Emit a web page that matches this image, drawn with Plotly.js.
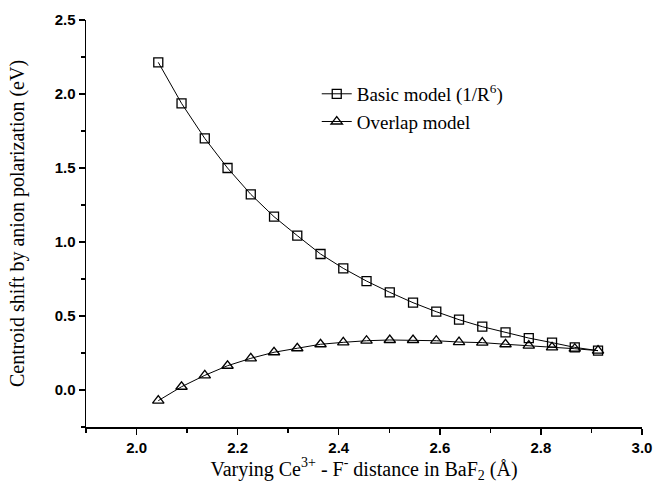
<!DOCTYPE html>
<html><head><meta charset="utf-8">
<script src="https://cdn.plot.ly/plotly-3.0.1.min.js"></script>
<style>html,body{margin:0;padding:0;background:#fff}</style>
</head><body><div id="chart" style="width:654px;height:494px"></div>
<script>
const distance = [2.043, 2.089, 2.135, 2.180, 2.226, 2.272, 2.318, 2.364, 2.409, 2.455, 2.501, 2.547, 2.593, 2.638, 2.684, 2.730, 2.776, 2.822, 2.867, 2.913];
const basicModel = [2.214, 1.937, 1.700, 1.500, 1.322, 1.171, 1.043, 0.919, 0.822, 0.736, 0.660, 0.590, 0.529, 0.475, 0.428, 0.390, 0.351, 0.320, 0.288, 0.266];
const overlapModel = [-0.072, 0.022, 0.099, 0.164, 0.214, 0.255, 0.282, 0.309, 0.322, 0.333, 0.338, 0.338, 0.333, 0.324, 0.320, 0.309, 0.300, 0.288, 0.279, 0.266];
const seriesNames = ['Basic model (1/R<sup>6</sup>)', 'Overlap model'];

const traces = [
  {x: distance, y: basicModel, name: seriesNames[0], type: 'scatter', mode: 'lines+markers',
   line: {color: '#000', width: 1}, marker: {symbol: 'square-open', size: 9, color: '#000', line: {width: 1.3}}},
  {x: distance, y: overlapModel, name: seriesNames[1], type: 'scatter', mode: 'lines+markers',
   line: {color: '#000', width: 1}, marker: {symbol: 'triangle-up-open', size: 10, color: '#000', line: {width: 1.3}}}
];
const tickFont = {family: 'Liberation Sans, Arial, sans-serif', size: 15, color: '#000', weight: 'bold'};
const serif = 'Liberation Serif, Times New Roman, serif';
const layout = {
  width: 654, height: 494,
  margin: {l: 86, r: 12, t: 20, b: 67},
  paper_bgcolor: '#fff', plot_bgcolor: '#fff',
  showlegend: true,
  legend: {x: 0.415, y: 0.865, xanchor: 'left', yanchor: 'top', bgcolor: 'rgba(0,0,0,0)',
           font: {family: serif, size: 19, color: '#000'},
           tracegroupgap: 0, itemwidth: 30},
  xaxis: {range: [1.9, 3.0], tickvals: [2.0, 2.2, 2.4, 2.6, 2.8, 3.0], ticktext: ['2.0','2.2','2.4','2.6','2.8','3.0'],
          ticks: 'outside', ticklen: 6, tickwidth: 1.5, tickcolor: '#000',
          minor: {dtick: 0.1, tick0: 2.0, ticks: 'outside', ticklen: 4, tickwidth: 1.5, tickcolor: '#000'},
          showline: true, linecolor: '#000', linewidth: 1.5, showgrid: false, zeroline: false,
          tickfont: tickFont,
          title: {text: 'Varying Ce<sup>3+</sup> - F<sup>-</sup> distance in BaF<sub>2</sub> (Å)', standoff: 0,
                  font: {family: serif, size: 20, color: '#000'}}},
  yaxis: {range: [-0.25, 2.5], tickvals: [0, 0.5, 1.0, 1.5, 2.0, 2.5], ticktext: ['0.0','0.5','1.0','1.5','2.0','2.5'],
          ticks: 'outside', ticklen: 6, tickwidth: 1.5, tickcolor: '#000',
          minor: {dtick: 0.25, tick0: 0, ticks: 'outside', ticklen: 4, tickwidth: 1.5, tickcolor: '#000'},
          showline: true, linecolor: '#000', linewidth: 1.5, showgrid: false, zeroline: false,
          tickfont: tickFont,
          title: {text: 'Centroid shift by anion polarization (eV)', standoff: 24,
                  font: {family: serif, size: 20, color: '#000'}}}
};
Plotly.newPlot('chart', traces, layout, {displayModeBar: false, staticPlot: true});
</script></body></html>
